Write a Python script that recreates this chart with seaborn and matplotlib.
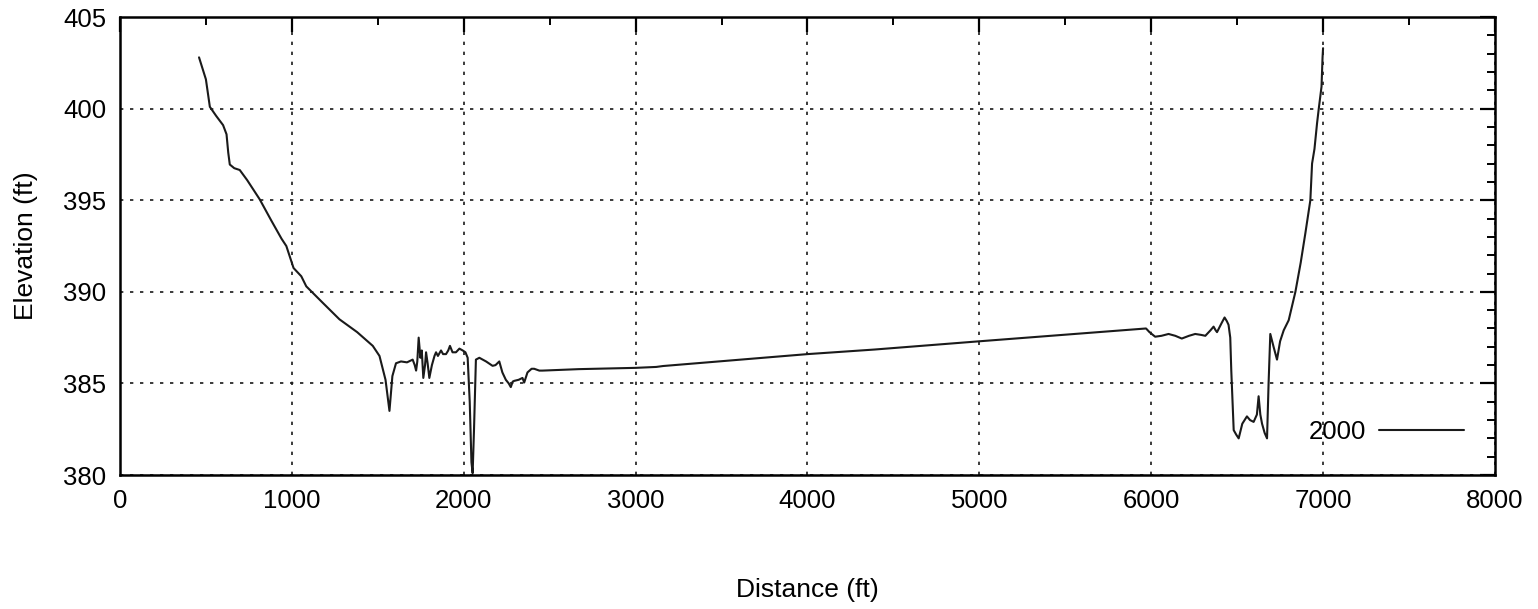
import matplotlib
matplotlib.use("Agg")
import matplotlib.pyplot as plt
from matplotlib.ticker import MultipleLocator
import pandas as pd
import seaborn as sns

# 2000 profile
distance = [460, 500, 523, 560, 600, 620, 630, 639, 665, 697, 740, 813, 880, 940, 968,
            1000, 1010, 1040, 1055, 1084, 1180, 1277, 1380, 1471, 1510, 1545, 1568, 1585,
            1606, 1635, 1670, 1703, 1715, 1723, 1730, 1738, 1748, 1756, 1765, 1775, 1781,
            1790, 1800, 1815, 1830, 1839, 1850, 1868, 1880, 1897, 1910, 1920, 1935, 1955,
            1975, 1994, 2010, 2023, 2035, 2045, 2052, 2060, 2071, 2091, 2130, 2168, 2185,
            2207, 2225, 2245, 2262, 2274, 2285, 2294, 2320, 2342, 2352, 2371, 2395, 2410,
            2440, 2458, 2670, 3000, 3120, 3160, 4000, 4390, 5000, 5970, 5990, 6023, 6060,
            6101, 6140, 6178, 6220, 6256, 6290, 6315, 6345, 6363, 6375, 6383, 6410, 6427,
            6440, 6450, 6460, 6466, 6480, 6495, 6509, 6530, 6557, 6575, 6596, 6615, 6625,
            6635, 6645, 6660, 6674, 6683, 6693, 6712, 6732, 6750, 6771, 6800, 6839, 6870,
            6897, 6926, 6936, 6950, 6965, 6975, 6991, 6997, 7000]
elevation = [402.8, 401.6, 400.1, 399.6, 399.1, 398.6, 397.6, 396.95, 396.75, 396.65, 396.1,
             395.05, 393.9, 392.9, 392.5, 391.6, 391.3, 391.0, 390.85, 390.3, 389.4, 388.5,
             387.8, 387.05, 386.5, 385.2, 383.5, 385.4, 386.1, 386.2, 386.15, 386.3, 386.0,
             385.7, 386.2, 387.5, 386.4, 386.8, 385.3, 386.0, 386.7, 386.1, 385.3, 386.0,
             386.5, 386.7, 386.5, 386.8, 386.6, 386.6, 386.8, 387.05, 386.7, 386.7, 386.9,
             386.8, 386.7, 386.4, 384.0, 380.7, 380.1, 382.5, 386.3, 386.4, 386.2, 385.96,
             386.0, 386.2, 385.6, 385.2, 385.0, 384.8, 385.1, 385.14, 385.2, 385.3, 385.05,
             385.6, 385.8, 385.8, 385.7, 385.7, 385.78, 385.85, 385.9, 385.95, 386.6, 386.85,
             387.3, 388.0, 387.8, 387.55, 387.6, 387.7, 387.6, 387.45, 387.6, 387.7, 387.65,
             387.6, 387.9, 388.1, 387.9, 387.8, 388.3, 388.6, 388.4, 388.2, 387.5, 385.7,
             382.45, 382.2, 382.0, 382.8, 383.2, 383.0, 382.9, 383.3, 384.3, 383.3, 382.8,
             382.3, 382.0, 385.0, 387.7, 387.0, 386.3, 387.3, 387.9, 388.45, 390.0, 391.6,
             393.2, 395.0, 397.0, 397.8, 399.2, 400.0, 401.2, 402.8, 403.3]
series_name = "2000"

x_ticks = [0, 1000, 2000, 3000, 4000, 5000, 6000, 7000, 8000]
y_ticks = [380, 385, 390, 395, 400, 405]

df = pd.DataFrame({"Distance": distance, "Elevation": elevation})

sns.set_style("white")
plt.rcParams['font.family'] = ['Liberation Sans', 'DejaVu Sans']
plt.rcParams['text.color'] = 'black'
plt.rcParams['xtick.color'] = 'black'
plt.rcParams['ytick.color'] = 'black'
plt.rcParams['axes.labelcolor'] = 'black'

fig = plt.figure(figsize=(15.38, 6.09), dpi=100)
ax = fig.add_axes([0.078, 0.22, 0.894, 0.752])

sns.lineplot(data=df, x="Distance", y="Elevation", estimator=None, sort=False,
             color="#1a1a1a", linewidth=1.5, label=series_name, ax=ax)

ax.set_xlim(0, 8000)
ax.set_ylim(380, 405)
ax.set_xticks(x_ticks)
ax.set_yticks(y_ticks)
ax.xaxis.set_minor_locator(MultipleLocator(500))
ax.yaxis.set_minor_locator(MultipleLocator(1))

# gnuplot look: inward ticks on every side, dotted grid
ax.tick_params(which='both', direction='in', top=True, right=True, color='black')
ax.tick_params(which='major', length=11, width=1.6, labelsize=18.5, pad=10)
ax.tick_params(which='minor', length=6, width=1.4)
ax.grid(True, which='major', linestyle=(0, (2, 4)), color='#1a1a1a', linewidth=1.2)
for s in ax.spines.values():
    s.set_color('black')
    s.set_linewidth(1.8)

ax.set_xlabel("Distance (ft)", fontsize=19)
ax.set_ylabel("Elevation (ft)", fontsize=19)
ax.xaxis.label.set_va('center')
ax.yaxis.label.set_va('center')
ax.xaxis.set_label_coords(0.5, -0.251)
ax.yaxis.set_label_coords(-0.068, 0.5)

ax.legend(loc='lower right', frameon=False, markerfirst=False, fontsize=18.5,
          handlelength=3.3, handletextpad=0.5, borderaxespad=0.8)

fig.savefig("out.png", dpi=100)
